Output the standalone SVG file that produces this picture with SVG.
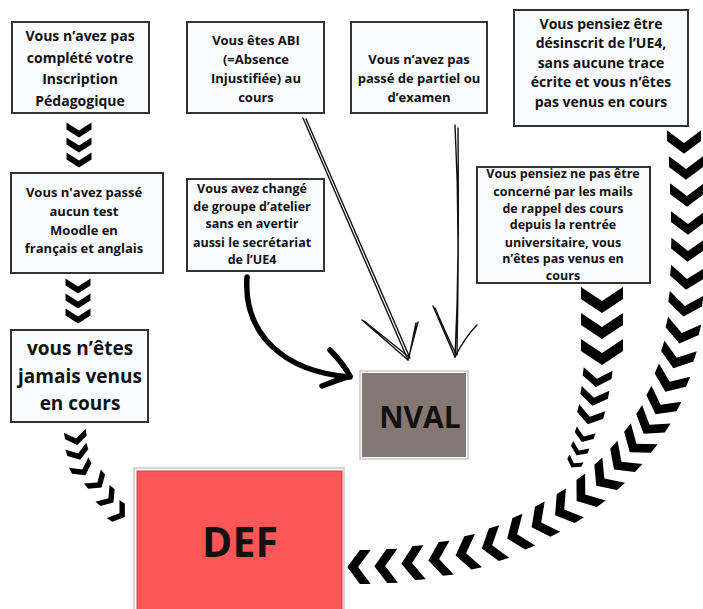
<svg xmlns="http://www.w3.org/2000/svg" width="703" height="609" viewBox="0 0 703 609">
<defs>
<style>
.box{fill:#F9FBFF;stroke:#333;stroke-width:2}
.t{font-family:"Open Sans","DejaVu Sans",sans-serif;font-weight:700;fill:#111;text-anchor:middle}
.sk{fill:none;stroke:#111;stroke-width:1.4;stroke-linecap:round;stroke-linejoin:round}
.thick{fill:none;stroke:#000;stroke-width:5.5;stroke-linecap:round;stroke-linejoin:round}
.cv{fill:#000}
</style>
<path id="chev" d="M-6.5,-10 L-0.5,-10 L6.5,0 L-0.5,10 L-6.5,10 L0.5,0 Z"/>
</defs>
<rect width="703" height="609" fill="#fff"/>

<g id="n-inscription">
<rect class="box" x="12" y="22" width="137" height="91"/>
<text class="t" font-size="14" x="80"><tspan x="80" y="41">Vous n’avez pas</tspan><tspan x="80" y="63">complété votre</tspan><tspan x="80" y="84">Inscription</tspan><tspan x="80" y="106">Pédagogique</tspan></text>
</g>

<g id="n-moodle">
<rect class="box" x="11" y="173" width="152" height="100"/>
<text class="t" font-size="13" x="84"><tspan x="84" y="197">Vous n'avez passé</tspan><tspan x="84" y="216">aucun test</tspan><tspan x="84" y="235">Moodle en</tspan><tspan x="84" y="253">français et anglais</tspan></text>
</g>

<g id="n-jamais">
<rect class="box" x="11" y="330" width="137" height="92"/>
<text class="t" font-size="19" x="80"><tspan x="80" y="355">vous n’êtes</tspan><tspan x="80" y="383">jamais venus</tspan><tspan x="80" y="410">en cours</tspan></text>
</g>

<g id="n-abi">
<rect class="box" x="187" y="22" width="137" height="91"/>
<text class="t" font-size="13" x="256"><tspan x="256" y="45">Vous êtes ABI</tspan><tspan x="256" y="64">(=Absence</tspan><tspan x="256" y="83">Injustifiée) au</tspan><tspan x="256" y="102">cours</tspan></text>
</g>

<g id="n-partiel">
<rect class="box" x="351" y="22" width="136" height="91"/>
<text class="t" font-size="13" x="419"><tspan x="419" y="64">Vous n’avez pas</tspan><tspan x="419" y="83">passé de partiel ou</tspan><tspan x="419" y="102">d’examen</tspan></text>
</g>

<g id="n-desinscrit">
<rect class="box" x="514" y="10" width="174" height="116"/>
<text class="t" font-size="14" x="601"><tspan x="601" y="29">Vous pensiez être</tspan><tspan x="601" y="48">désinscrit de l’UE4,</tspan><tspan x="601" y="68">sans aucune trace</tspan><tspan x="601" y="87">écrite et vous n’êtes</tspan><tspan x="601" y="107">pas venus en cours</tspan></text>
</g>

<g id="n-atelier">
<rect class="box" x="187" y="179" width="137" height="92"/>
<text class="t" font-size="12.5" x="252"><tspan x="252" y="193">Vous avez changé</tspan><tspan x="252" y="211">de groupe d’atelier</tspan><tspan x="252" y="228">sans en avertir</tspan><tspan x="252" y="247">aussi le secrétariat</tspan><tspan x="252" y="264">de l’UE4</tspan></text>
</g>

<g id="n-mails">
<rect class="box" x="477" y="167" width="173" height="116"/>
<text class="t" font-size="12.5" x="563"><tspan x="563" y="178">Vous pensiez ne pas être</tspan><tspan x="563" y="196">concerné par les mails</tspan><tspan x="563" y="213">de rappel des cours</tspan><tspan x="563" y="229">depuis la rentrée</tspan><tspan x="563" y="247">universitaire, vous</tspan><tspan x="563" y="263">n’êtes pas venus en</tspan><tspan x="563" y="280">cours</tspan></text>
</g>

<g id="n-nval">
<rect x="360" y="371" width="108" height="88" fill="#fff" stroke="#c8c8c8" stroke-width="1.5"/>
<rect x="362" y="373" width="104" height="84" fill="#857873"/>
<text class="t" font-size="30" x="420" y="428">NVAL</text>
</g>

<g id="n-def">
<rect x="134" y="468" width="210" height="150" fill="#fff" stroke="#c8c8c8" stroke-width="1.5"/>
<rect x="137" y="471" width="205" height="145" fill="#FF5757" stroke="#d93a40" stroke-width="1"/>
<text class="t" font-size="41" x="240" y="557">DEF</text>
</g>

<g id="connectors">
<!-- sketchy arrow ABI -> NVAL -->
<path class="sk" d="M303,118 L408,360 M306,119 L410,358"/>
<path class="sk" d="M362,320 L408,360 L418,322 M364,321 L409,357 L416,323"/>
<!-- sketchy arrow partiel -> NVAL -->
<path class="sk" d="M455,125 Q461,240 455,357 M458,128 Q459,240 457,355"/>
<path class="sk" d="M433,306 Q446,336 455,357 Q465,337 477,325 M435,308 Q447,336 456,354"/>
<!-- thick curved arrow atelier -> NVAL -->
<path class="thick" d="M247,277 C243,335 285,372 350,377"/>
<path class="thick" d="M330,350 Q342,362 350,376 Q337,380 322,386"/>

<g class="cv">
<!-- chevrons inscription -> moodle -->
<use href="#chev" transform="translate(79,130) rotate(90) scale(1.15,1.25)"/>
<use href="#chev" transform="translate(79,145) rotate(90) scale(1.15,1.25)"/>
<use href="#chev" transform="translate(79,160) rotate(90) scale(1.15,1.25)"/>
<!-- moodle -> jamais -->
<use href="#chev" transform="translate(78,286) rotate(90) scale(1.15,1.25)"/>
<use href="#chev" transform="translate(78,301) rotate(90) scale(1.15,1.25)"/>
<use href="#chev" transform="translate(78,316) rotate(90) scale(1.15,1.25)"/>
<!-- jamais -> DEF -->
<use href="#chev" transform="translate(76,438) rotate(80) scale(1.1,1.1)"/>
<use href="#chev" transform="translate(78,453) rotate(72) scale(1.1,1.1)"/>
<use href="#chev" transform="translate(82,469) rotate(62) scale(1.1,1.1)"/>
<use href="#chev" transform="translate(97,482) rotate(50) scale(1.1,1.1)"/>
<use href="#chev" transform="translate(108,498) rotate(40) scale(1.1,1.1)"/>
<use href="#chev" transform="translate(119,513) rotate(35) scale(1.1,1.1)"/>
<!-- mails -> DEF (middle chain) -->
<use href="#chev" transform="translate(602,300) rotate(90) scale(2,2.1)"/>
<use href="#chev" transform="translate(602,326) rotate(90) scale(2,2.1)"/>
<use href="#chev" transform="translate(602,352) rotate(90) scale(2,2.1)"/>
<use href="#chev" transform="translate(597,378) rotate(97) scale(1.4,1.45)"/>
<use href="#chev" transform="translate(594,397) rotate(100) scale(1.35,1.4)"/>
<use href="#chev" transform="translate(590,416) rotate(105) scale(1.3,1.35)"/>
<use href="#chev" transform="translate(584,436) rotate(110) scale(1,1)"/>
<use href="#chev" transform="translate(579,450) rotate(115) scale(0.9,0.9)"/>
<use href="#chev" transform="translate(574,463) rotate(120) scale(0.8,0.8)"/>
<!-- desinscrit -> DEF (outer chain) -->
<use href="#chev" transform="translate(684,142) rotate(90) scale(1.8,1.7)"/>
<use href="#chev" transform="translate(686,168) rotate(90) scale(1.8,1.7)"/>
<use href="#chev" transform="translate(687,195) rotate(90) scale(1.8,1.7)"/>
<use href="#chev" transform="translate(688,223) rotate(90) scale(1.8,1.7)"/>
<use href="#chev" transform="translate(688,250) rotate(92) scale(1.8,1.7)"/>
<use href="#chev" transform="translate(687,278) rotate(95) scale(1.8,1.7)"/>
<use href="#chev" transform="translate(685,305) rotate(98) scale(1.8,1.7)"/>
<use href="#chev" transform="translate(682,332) rotate(103) scale(1.8,1.7)"/>
<use href="#chev" transform="translate(677,357) rotate(108) scale(1.8,1.7)"/>
<use href="#chev" transform="translate(670,381) rotate(113) scale(1.8,1.7)"/>
<use href="#chev" transform="translate(661,404) rotate(118) scale(1.8,1.7)"/>
<use href="#chev" transform="translate(650,424) rotate(123) scale(1.8,1.7)"/>
<use href="#chev" transform="translate(637,443) rotate(128) scale(1.8,1.7)"/>
<use href="#chev" transform="translate(622,461) rotate(133) scale(1.8,1.7)"/>
<use href="#chev" transform="translate(605,478) rotate(138) scale(1.8,1.7)"/>
<use href="#chev" transform="translate(586,494) rotate(143) scale(1.8,1.7)"/>
<use href="#chev" transform="translate(565,509) rotate(148) scale(1.8,1.7)"/>
<use href="#chev" transform="translate(542,522) rotate(153) scale(1.8,1.7)"/>
<use href="#chev" transform="translate(518,534) rotate(158) scale(1.8,1.7)"/>
<use href="#chev" transform="translate(493,545) rotate(163) scale(1.8,1.7)"/>
<use href="#chev" transform="translate(467,553) rotate(168) scale(1.8,1.7)"/>
<use href="#chev" transform="translate(440,559) rotate(173) scale(1.8,1.7)"/>
<use href="#chev" transform="translate(413,563) rotate(176) scale(1.8,1.7)"/>
<use href="#chev" transform="translate(386,566) rotate(179) scale(1.8,1.7)"/>
<use href="#chev" transform="translate(359,567) rotate(180) scale(1.8,1.7)"/>
</g>
</g>
</svg>
